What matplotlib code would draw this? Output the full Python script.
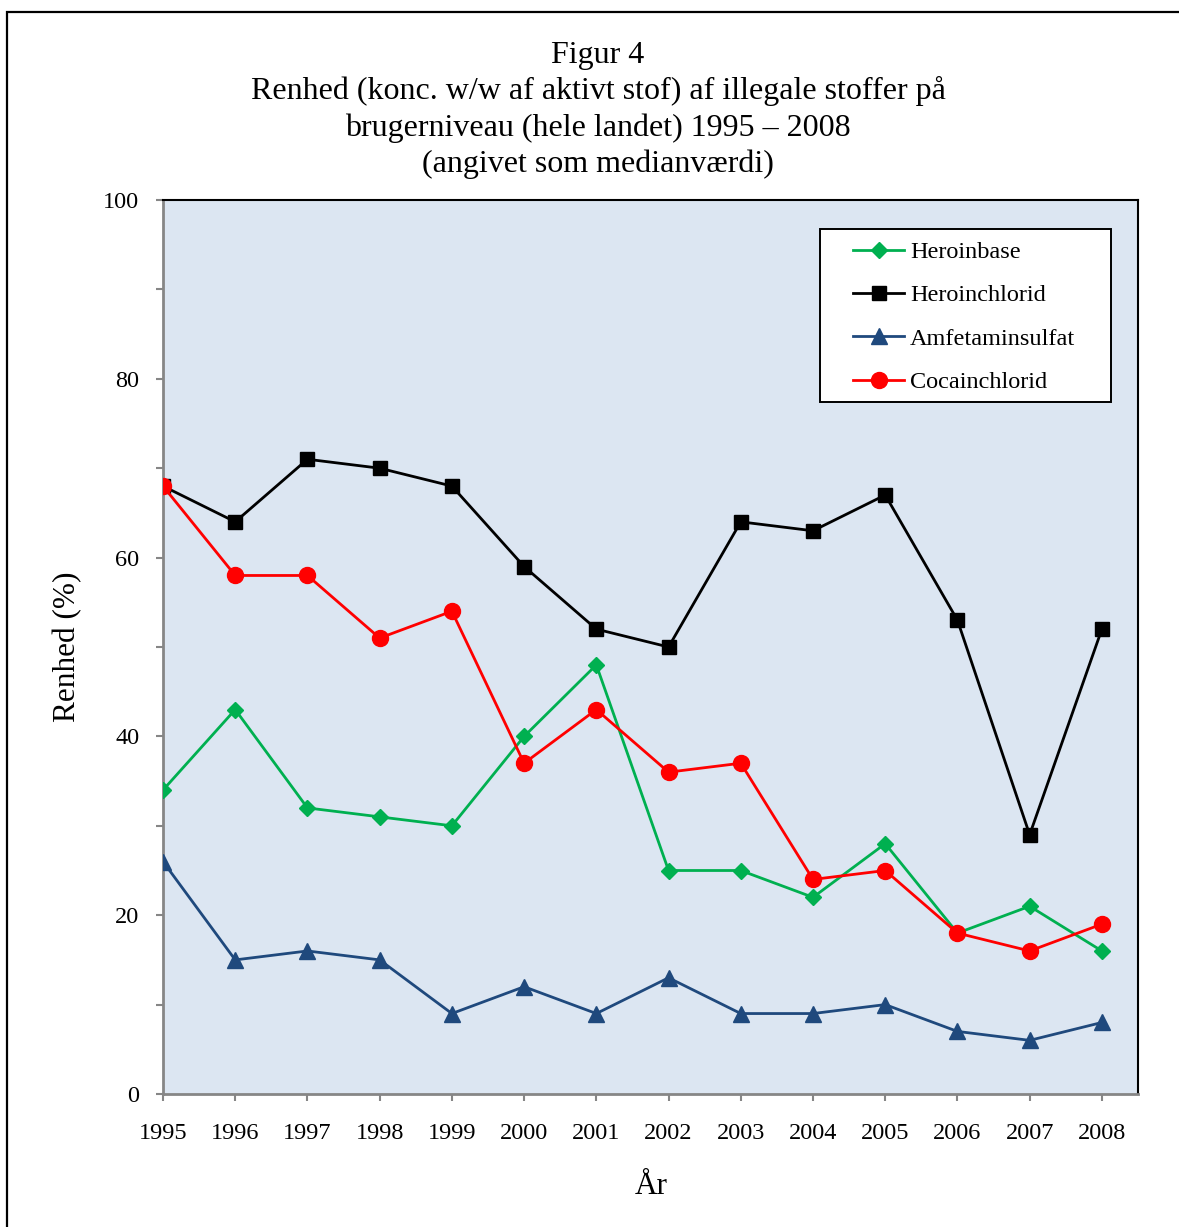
import matplotlib
matplotlib.use("Agg")
import matplotlib.pyplot as plt
from matplotlib.patches import Rectangle
from matplotlib.ticker import MultipleLocator

years = [1995, 1996, 1997, 1998, 1999, 2000, 2001, 2002, 2003, 2004, 2005, 2006, 2007, 2008]
heroinbase = [34, 43, 32, 31, 30, 40, 48, 25, 25, 22, 28, 18, 21, 16]
heroinchlorid = [68, 64, 71, 70, 68, 59, 52, 50, 64, 63, 67, 53, 29, 52]
amfetaminsulfat = [26, 15, 16, 15, 9, 12, 9, 13, 9, 9, 10, 7, 6, 8]
cocainchlorid = [68, 58, 58, 51, 54, 37, 43, 36, 37, 24, 25, 18, 16, 19]

title_lines = ["Figur 4",
               "Renhed (konc. w/w af aktivt stof) af illegale stoffer på",
               "brugerniveau (hele landet) 1995 \u2013 2008",
               "(angivet som medianværdi)"]

plt.rcParams['font.family'] = ['Liberation Serif', 'DejaVu Serif']

W, H = 1179, 1227
L, R, T, B = 163, 1138, 200, 1094
fig = plt.figure(figsize=(W/100, H/100), dpi=100)
ax = fig.add_axes([L/W, 1-B/H, (R-L)/W, (B-T)/H])
ax.set_facecolor('#DCE6F2')

def axx(px):
    return (px-L)/(R-L)

def axy(py):
    return 1-(py-T)/(B-T)

ax.plot(years, heroinbase, color='#00B050', lw=2, marker='D', ms=8.5, label='Heroinbase', zorder=3)
ax.plot(years, heroinchlorid, color='black', lw=2, marker='s', ms=10.5, label='Heroinchlorid', zorder=3)
ax.plot(years, amfetaminsulfat, color='#1F497D', lw=2, marker='^', ms=11, label='Amfetaminsulfat', zorder=3)
ax.plot(years, cocainchlorid, color='#FF0000', lw=2, marker='o', ms=11.5, label='Cocainchlorid', zorder=3)

ax.set_xlim(1995, 2008.5)
ax.set_ylim(0, 100)
ax.set_xticks(years)
ax.set_xticklabels([str(y) for y in years])
ax.yaxis.set_major_locator(MultipleLocator(20))
ax.yaxis.set_minor_locator(MultipleLocator(10))
ax.tick_params(axis='both', which='both', direction='out', color='#868686', width=1.5)
ax.tick_params(axis='y', which='major', length=5, pad=12, labelsize=17.5)
ax.tick_params(axis='y', which='minor', length=5)
ax.tick_params(axis='x', which='major', length=5, pad=16, labelsize=17.5)

for s in ['left', 'bottom']:
    ax.spines[s].set_color('#868686')
    ax.spines[s].set_linewidth(2)
for s in ['top', 'right']:
    ax.spines[s].set_color('black')
    ax.spines[s].set_linewidth(1.5)

ax.set_ylabel('Renhed (%)', fontsize=22.5)
ax.yaxis.set_label_coords(axx(82), 0.5)
ax.set_xlabel('År', fontsize=22.5)
ax.xaxis.set_label_coords(axx(651), axy(1172))

# legend frame
ax.add_patch(Rectangle((axx(820), axy(402)), axx(1111)-axx(820), axy(229)-axy(402),
                       transform=ax.transAxes, facecolor='white', edgecolor='black',
                       lw=1.4, zorder=4))
leg = ax.legend(loc='upper left', bbox_to_anchor=(axx(853), axy(241)),
                fontsize=17.5, frameon=False, borderpad=0, labelspacing=0.88,
                handlelength=2.1, handletextpad=0.25, borderaxespad=0)
leg.set_zorder(5)

ys = [55, 91, 128, 164]
for t, y in zip(title_lines, ys):
    fig.text(598/W, 1-y/H, t, ha='center', va='center', fontsize=23)

fig.patches.append(Rectangle((7.5/W, -0.05), 1.1, 1-11.5/H+0.05, transform=fig.transFigure,
                             fill=False, edgecolor='black', lw=1.6, zorder=0))

fig.savefig('out.png', dpi=100)
